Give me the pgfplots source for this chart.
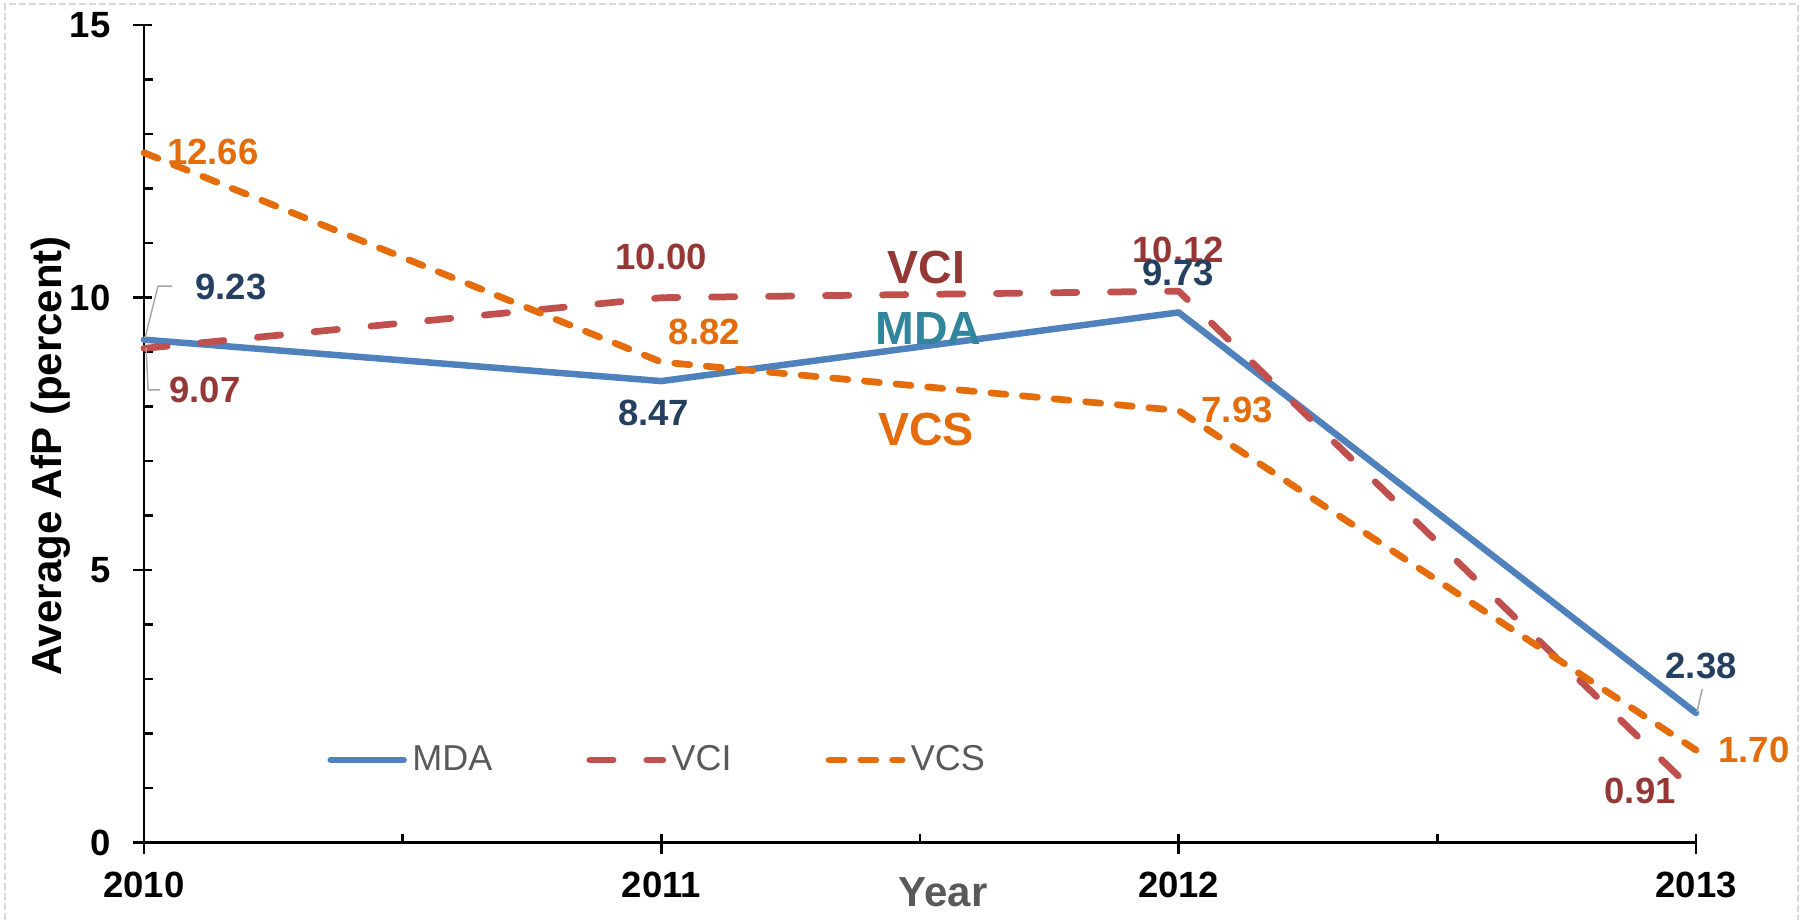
\documentclass[border=0pt]{standalone}
\usepackage{fontspec}
\setmainfont{Liberation Sans}
\usepackage{pgfplots}
\pgfplotsset{compat=1.18}
\definecolor{mdaline}{HTML}{4F81BD}
\definecolor{vciline}{HTML}{C0504D}
\definecolor{vcsline}{HTML}{E46C0A}
\definecolor{mdalab}{HTML}{243F60}
\definecolor{vcilab}{HTML}{953735}
\definecolor{mdainl}{HTML}{31859C}
\definecolor{axgray}{HTML}{595959}
\definecolor{leader}{HTML}{A6A6A6}
\definecolor{bordergray}{HTML}{D9D9D9}
\newcommand{\lbl}{\fontsize{14.6bp}{17bp}\selectfont\bfseries}
\newcommand{\inl}{\fontsize{18.6bp}{22bp}\selectfont\bfseries}
\newcommand{\axl}{\fontsize{16.8bp}{20bp}\selectfont\bfseries}
\begin{document}
\begin{tikzpicture}
\path[use as bounding box] (-57.6bp,-30.92bp) rectangle (664.4bp,337.08bp);
\draw[color=bordergray, line width=0.8bp, dash pattern=on 2.8bp off 1.2bp]
  (-55.6bp,-31bp) -- (-55.6bp,335.48bp) -- (661.6bp,335.48bp) -- (661.6bp,-31bp);
\begin{axis}[
  at={(0,0)}, anchor=south west,
  scale only axis, width=620.8bp, height=327bp,
  xmin=2010, xmax=2013, ymin=0, ymax=15,
  clip=false, no markers,
  axis lines=left,
  axis line style={-, line width=1.08bp, black},
  xtick={2010,2011,2012,2013}, xticklabels={2010,2011,2012,2013},
  ytick={0,5,10,15}, yticklabels={0,5,10,15},
  minor x tick num=1, minor y tick num=4,
  tick align=inside,
  major tick length=3.4bp, minor tick length=3.5bp,
  tick style={line width=1bp, black},
  extra x ticks={2010,2011,2012,2013}, extra x tick labels={},
  extra y ticks={0,5,10,15}, extra y tick labels={},
  extra x tick style={tick align=outside, major tick length=4.4bp},
  extra y tick style={tick align=outside, major tick length=4.4bp},
  xticklabel style={font=\lbl, inner sep=0pt, anchor=north, yshift=-11.6bp},
  yticklabel style={font=\lbl, inner sep=0pt, anchor=east, xshift=-13.2bp},
  xlabel={Year}, ylabel={Average AfP (percent)},
  every axis x label/.style={at={(rel axis cs:0.515,-0.078)}, anchor=base, inner sep=0pt, font=\axl, text=axgray},
  every axis y label/.style={at={(rel axis cs:-0.053,0.473)}, rotate=90, anchor=base, inner sep=0pt, font=\axl, text=black},
  legend columns=3,
  legend image code/.code={\draw[#1] (0bp,0bp) -- (29.2bp,0bp);},
  legend style={at={(0.1182,0.1012)}, anchor=west, draw=none, fill=none,
    inner sep=0pt, outer sep=0pt,
    font=\fontsize{14.4bp}{17bp}\selectfont, text=axgray,
    nodes={inner sep=0pt},
    /tikz/every odd column/.append style={column sep=2.2bp},
    /tikz/every even column/.append style={column sep=37.6bp}},
]
\addplot[mdaline, line width=2.6bp, line join=round, line cap=round]
  coordinates {(2010,9.23) (2011,8.47) (2012,9.73) (2013,2.38)};
\addlegendentry{MDA}
\addplot[vciline, line width=2.7bp, line join=round, line cap=round, dash pattern=on 9.3bp off 13.5bp]
  coordinates {(2010,9.07) (2011,10.00) (2012,10.12) (2013,0.91)};
\addlegendentry{VCI}
\addplot[vcsline, line width=2.7bp, line join=round, line cap=round, dash pattern=on 6bp off 6.7bp]
  coordinates {(2010,12.66) (2011,8.82) (2012,7.93) (2013,1.70)};
\addlegendentry{VCS}
% leader lines
\draw[leader, line width=0.6bp] (axis cs:2010.002,9.26) -- (axis cs:2010.027,10.21) -- (axis cs:2010.054,10.21);
\draw[leader, line width=0.6bp] (axis cs:2010.004,9.08) -- (axis cs:2010.008,8.31) -- (axis cs:2010.031,8.31);
\draw[leader, line width=0.6bp] (axis cs:2013.002,2.40) -- (axis cs:2013.012,2.82);
% data labels
\node[font=\lbl, text=vcsline, inner sep=0pt] at (axis cs:2010.133,12.68) {12.66};
\node[font=\lbl, text=mdalab, inner sep=0pt] at (axis cs:2010.168,10.19) {9.23};
\node[font=\lbl, text=vcilab, inner sep=0pt] at (axis cs:2010.118,8.31) {9.07};
\node[font=\lbl, text=vcilab, inner sep=0pt] at (axis cs:2011.0,10.74) {10.00};
\node[font=\lbl, text=vcsline, inner sep=0pt] at (axis cs:2011.083,9.37) {8.82};
\node[font=\lbl, text=mdalab, inner sep=0pt] at (axis cs:2010.985,7.88) {8.47};
\node[font=\lbl, text=vcilab, inner sep=0pt] at (axis cs:2011.999,10.875) {10.12};
\node[font=\lbl, text=mdalab, inner sep=0pt] at (axis cs:2011.999,10.46) {9.73};
\node[font=\lbl, text=vcsline, inner sep=0pt] at (axis cs:2012.113,7.94) {7.93};
\node[font=\lbl, text=mdalab, inner sep=0pt] at (axis cs:2013.010,3.24) {2.38};
\node[font=\lbl, text=vcsline, inner sep=0pt] at (axis cs:2013.112,1.70) {1.70};
\node[font=\lbl, text=vcilab, inner sep=0pt] at (axis cs:2012.892,0.95) {0.91};
% inline series names
\node[font=\inl, text=vcilab, inner sep=0pt] at (axis cs:2011.512,10.55) {VCI};
\node[font=\inl, text=mdainl, inner sep=0pt] at (axis cs:2011.516,9.43) {MDA};
\node[font=\inl, text=vcsline, inner sep=0pt] at (axis cs:2011.512,7.59) {VCS};
\end{axis}
\end{tikzpicture}
\end{document}
